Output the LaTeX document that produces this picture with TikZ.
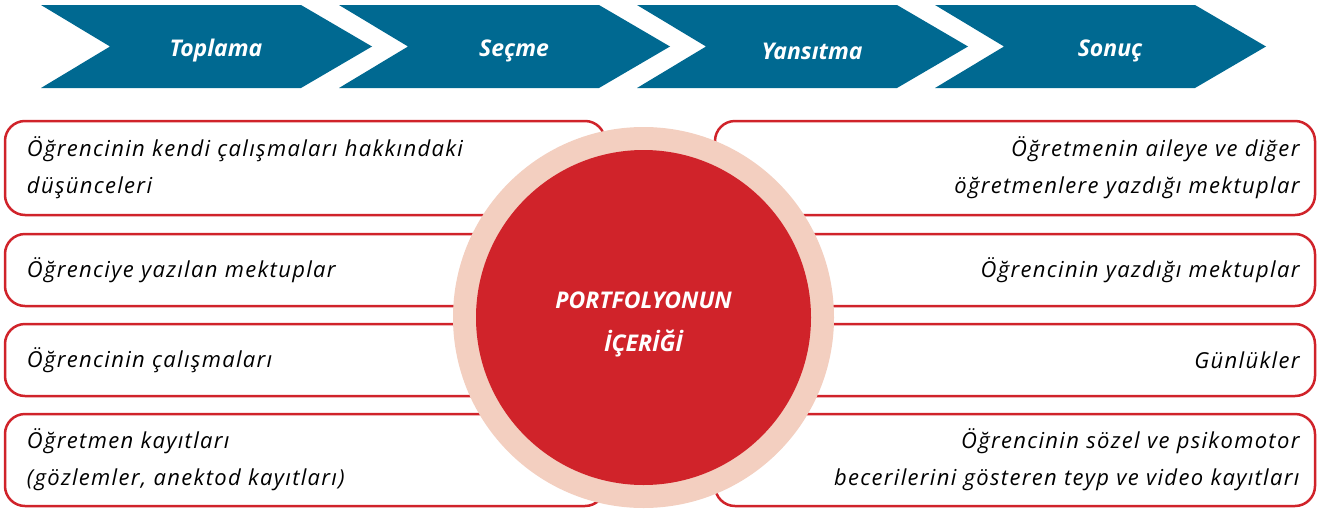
\documentclass[tikz,border=0pt]{standalone}
\usepackage{fontspec}
\setmainfont{Open Sans}
\newfontfamily\handfont{Open Sans}[LetterSpace=6]
\definecolor{chevblue}{RGB}{0,105,145}
\definecolor{boxred}{RGB}{208,35,42}
\definecolor{peach}{RGB}{243,207,192}
\tikzset{
  chev/.style={fill=chevblue},
  chevlabel/.style={text=white, font=\fontsize{23}{27}\selectfont\bfseries\itshape, inner sep=0pt},
  itembox/.style={draw=boxred, line width=2.5pt, fill=white, rounded corners=20pt,
    minimum width=600pt, inner xsep=0pt, font=\handfont\fontsize{22}{37}\selectfont\itshape},
}
\begin{document}
\begin{tikzpicture}[x=1pt,y=-1pt]
\useasboundingbox (0,0) rectangle (1335,509);
% chevrons
\foreach \i/\lab/\nm in {0/Toplama/c1,1/Seçme/c2,2/Yansıtma/c3,3/Sonuç/c4}{
  \pgfmathsetmacro{\xx}{41+298*\i}
  \fill[chev] (\xx,5) -- (\xx+260,5) -- (\xx+331,46.5) -- (\xx+260,88) -- (\xx,88) -- (\xx+69,46.5) -- cycle;
  \node[chevlabel] (\nm) at (\xx+175,51) {\lab};
}
% left boxes
\node[itembox, minimum height=94pt, text width=556pt, align=left] (l1) at (305,168) {Öğrencinin kendi çalışmaları hakkındaki\\düşünceleri};
\node[itembox, minimum height=72pt, text width=556pt, align=left] (l2) at (305,270) {Öğrenciye yazılan mektuplar};
\node[itembox, minimum height=72pt, text width=556pt, align=left] (l3) at (305,360) {Öğrencinin çalışmaları};
\node[itembox, minimum height=92pt, text width=556pt, align=left] (l4) at (305,460) {Öğretmen kayıtları\\(gözlemler, anektod kayıtları)};
% right boxes
\node[itembox, minimum height=94pt, text width=569pt, align=right] (r1) at (1015,168) {Öğretmenin aileye ve diğer\\öğretmenlere yazdığı mektuplar};
\node[itembox, minimum height=72pt, text width=569pt, align=right] (r2) at (1015,270) {Öğrencinin yazdığı mektuplar};
\node[itembox, minimum height=72pt, text width=569pt, align=right] (r3) at (1015,360) {Günlükler};
\node[itembox, minimum height=92pt, text width=569pt, align=right] (r4) at (1015,460) {Öğrencinin sözel ve psikomotor\\becerilerini gösteren teyp ve video kayıtları};
% circle
\node[circle, fill=peach, minimum size=381pt, inner sep=0pt] (outer) at (643.5,317.5) {};
\node[circle, fill=boxred, minimum size=335pt, inner sep=0pt] (inner) at (outer.center) {};
\node[text=white, align=center, inner sep=0pt,
  font=\fontsize{23}{43}\selectfont\bfseries\itshape] (title) at (643.5,324) {PORTFOLYONUN\\İÇERİĞİ};
\end{tikzpicture}
\end{document}
